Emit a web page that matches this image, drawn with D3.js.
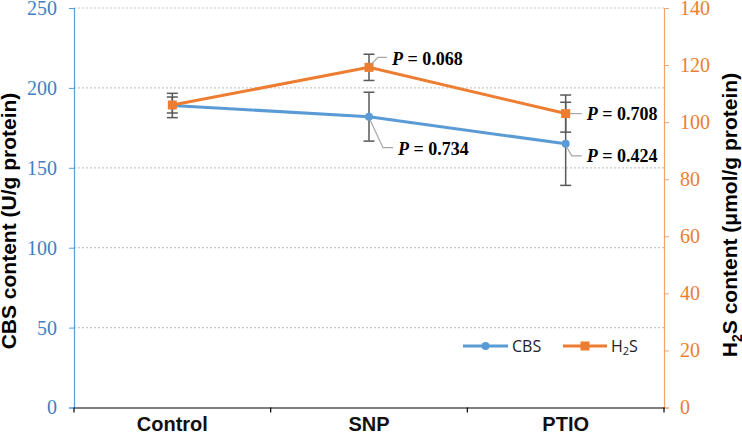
<!DOCTYPE html>
<html><head><meta charset="utf-8">
<script src="https://cdn.jsdelivr.net/npm/d3@7"></script>
<style>body{margin:0;background:#fff}</style>
</head><body>
<svg id="c" width="742" height="433"></svg>
<script>
const categories = ["Control", "SNP", "PTIO"];
const cbsValues = [189, 182, 165];
const cbsErrors = [7.6, 15.3, 26];
const h2sValues = [106, 119.2, 103];
const h2sErrors = [2.8, 4.6, 6.5];
const cbsPLabels = [null, "0.734", "0.424"];
const h2sPLabels = [null, "0.068", "0.708"];
const leftTicks = [0, 50, 100, 150, 200, 250];
const rightTicks = [0, 20, 40, 60, 80, 100, 120, 140];

const svg = d3.select("#c");
const L = 74, R = 664, T = 8, B = 407.5;
const x = d3.scaleBand().domain(categories).range([L, R]);
const yL = d3.scaleLinear().domain([0, 250]).range([B, T]);
const yR = d3.scaleLinear().domain([0, 140]).range([B, T]);
const blue = "#5b9bd5", orange = "#ed7d31";
const serif = "'Liberation Serif', 'Times New Roman', serif";
const sans = "'Liberation Sans', Arial, sans-serif";
const cx = d => x(d) + x.bandwidth() / 2;

// gridlines
svg.append("g").selectAll("line").data(leftTicks.filter(t => t > 0)).join("line")
  .attr("x1", L).attr("x2", R).attr("y1", d => yL(d)).attr("y2", d => yL(d))
  .attr("stroke", "#c8c8c8").attr("stroke-width", 1.2).attr("stroke-dasharray", "2,2");

// left axis
const gl = svg.append("g").attr("transform", `translate(${L},0)`)
  .call(d3.axisLeft(yL).tickValues(leftTicks).tickSize(5).tickPadding(12))
  .attr("font-family", serif).attr("font-size", 20);
gl.select(".domain").attr("stroke", blue).attr("stroke-width", 1.2);
gl.selectAll(".tick line").attr("stroke", blue);
gl.selectAll(".tick text").attr("fill", "#3f7fc4");

// right axis
const gr = svg.append("g").attr("transform", `translate(${R},0)`)
  .call(d3.axisRight(yR).tickValues(rightTicks).tickSize(5).tickPadding(11))
  .attr("font-family", serif).attr("font-size", 20);
gr.select(".domain").attr("stroke", "#f4a46c").attr("stroke-width", 1.2);
gr.selectAll(".tick line").attr("stroke", "#f4a46c");
gr.selectAll(".tick text").attr("fill", orange);

// x axis
const gx = svg.append("g").attr("transform", `translate(0,${B})`)
  .call(d3.axisBottom(x).tickSize(0).tickPadding(9))
  .attr("font-family", sans).attr("font-size", 20).attr("font-weight", "bold");
gx.select(".domain").attr("stroke", "#000").attr("stroke-width", 1.2);
gx.selectAll(".tick text").attr("fill", "#111");
svg.append("g").selectAll("line").data([0, 1, 2, 3]).join("line")
  .attr("x1", i => L + i * x.bandwidth()).attr("x2", i => L + i * x.bandwidth())
  .attr("y1", B).attr("y2", B + 5).attr("stroke", "#000").attr("stroke-width", 1.2);

// axis titles
svg.append("text").attr("transform", "translate(16,221) rotate(-90)").attr("text-anchor", "middle")
  .attr("font-family", sans).attr("font-size", 21).attr("font-weight", "bold")
  .text("CBS content (U/g protein)");
const rt = svg.append("text").attr("transform", "translate(737,215) rotate(-90)").attr("text-anchor", "middle")
  .attr("font-family", sans).attr("font-size", 21).attr("font-weight", "bold");
rt.append("tspan").text("H");
rt.append("tspan").text("2").attr("dy", 5).attr("font-size", 14);
rt.append("tspan").text("S content (μmol/g protein)").attr("dy", -5);

// error bars
function errBars(vals, errs, y, cw) {
  const g = svg.append("g").attr("stroke", "#595959").attr("stroke-width", 1.5);
  categories.forEach((c, i) => {
    const X = cx(c), y1 = y(vals[i] + errs[i]), y2 = y(vals[i] - errs[i]);
    g.append("line").attr("x1", X).attr("x2", X).attr("y1", y1).attr("y2", y2);
    g.append("line").attr("x1", X - cw).attr("x2", X + cw).attr("y1", y1).attr("y2", y1);
    g.append("line").attr("x1", X - cw).attr("x2", X + cw).attr("y1", y2).attr("y2", y2);
  });
}
errBars(cbsValues, cbsErrors, yL, 5.5);
errBars(h2sValues, h2sErrors, yR, 5.5);

// lines
const lineL = d3.line().x((d, i) => cx(categories[i])).y(d => yL(d));
const lineR = d3.line().x((d, i) => cx(categories[i])).y(d => yR(d));
svg.append("path").attr("d", lineL(cbsValues)).attr("fill", "none").attr("stroke", blue).attr("stroke-width", 3);
svg.append("path").attr("d", lineR(h2sValues)).attr("fill", "none").attr("stroke", orange).attr("stroke-width", 3);
svg.append("g").selectAll("circle").data(cbsValues).join("circle")
  .attr("cx", (d, i) => cx(categories[i])).attr("cy", d => yL(d)).attr("r", 4).attr("fill", blue);
svg.append("g").selectAll("rect").data(h2sValues).join("rect")
  .attr("x", (d, i) => cx(categories[i]) - 4.5).attr("y", d => yR(d) - 4.5).attr("width", 9).attr("height", 9).attr("fill", orange);

// P labels with leader lines
function pLabel(pts, lx, ly, txt) {
  svg.append("polyline").attr("points", pts.map(p => p.join(",")).join(" "))
    .attr("fill", "none").attr("stroke", "#a6a6a6").attr("stroke-width", 1.2);
  const t = svg.append("text").attr("x", lx).attr("y", ly).attr("dominant-baseline", "central")
    .attr("font-family", serif).attr("font-size", 18).attr("font-weight", "bold");
  t.append("tspan").text("P").attr("font-style", "italic");
  t.append("tspan").text(" = " + txt);
}
{
  const X = cx("SNP"), Y = yR(h2sValues[1]);
  pLabel([[X + 2, Y - 3], [X + 9, Y - 10], [X + 18, Y - 10]], X + 23, Y - 8, h2sPLabels[1]);
}
{
  const X = cx("SNP"), Y = yL(cbsValues[1]);
  pLabel([[X + 1, Y + 3], [X + 14, Y + 31], [X + 24, Y + 31]], X + 29, Y + 32, cbsPLabels[1]);
}
{
  const X = cx("PTIO"), Y = yR(h2sValues[2]);
  pLabel([[X + 4, Y], [X + 16, Y]], X + 21, Y, h2sPLabels[2]);
}
{
  const X = cx("PTIO"), Y = yL(cbsValues[2]);
  pLabel([[X + 1, Y + 3], [X + 6, Y + 12], [X + 16, Y + 12]], X + 21, Y + 12, cbsPLabels[2]);
}

// legend
const lg = svg.append("g").attr("font-family", "'Open Sans', 'Noto Sans', sans-serif").attr("font-size", 16);
lg.append("line").attr("x1", 463).attr("x2", 508).attr("y1", 346).attr("y2", 346).attr("stroke", blue).attr("stroke-width", 3);
lg.append("circle").attr("cx", 485.5).attr("cy", 346).attr("r", 4).attr("fill", blue);
lg.append("text").attr("x", 512).attr("y", 346).attr("dominant-baseline", "central").attr("fill", "#222").text("CBS");
lg.append("line").attr("x1", 563).attr("x2", 607).attr("y1", 346).attr("y2", 346).attr("stroke", orange).attr("stroke-width", 3);
lg.append("rect").attr("x", 580.5).attr("y", 341.5).attr("width", 9).attr("height", 9).attr("fill", orange);
const lt = lg.append("text").attr("x", 611).attr("y", 346).attr("dominant-baseline", "central").attr("fill", "#222");
lt.append("tspan").text("H");
lt.append("tspan").text("2").attr("font-size", 11).attr("dy", 4);
lt.append("tspan").text("S").attr("dy", -4);
</script>
</body></html>
